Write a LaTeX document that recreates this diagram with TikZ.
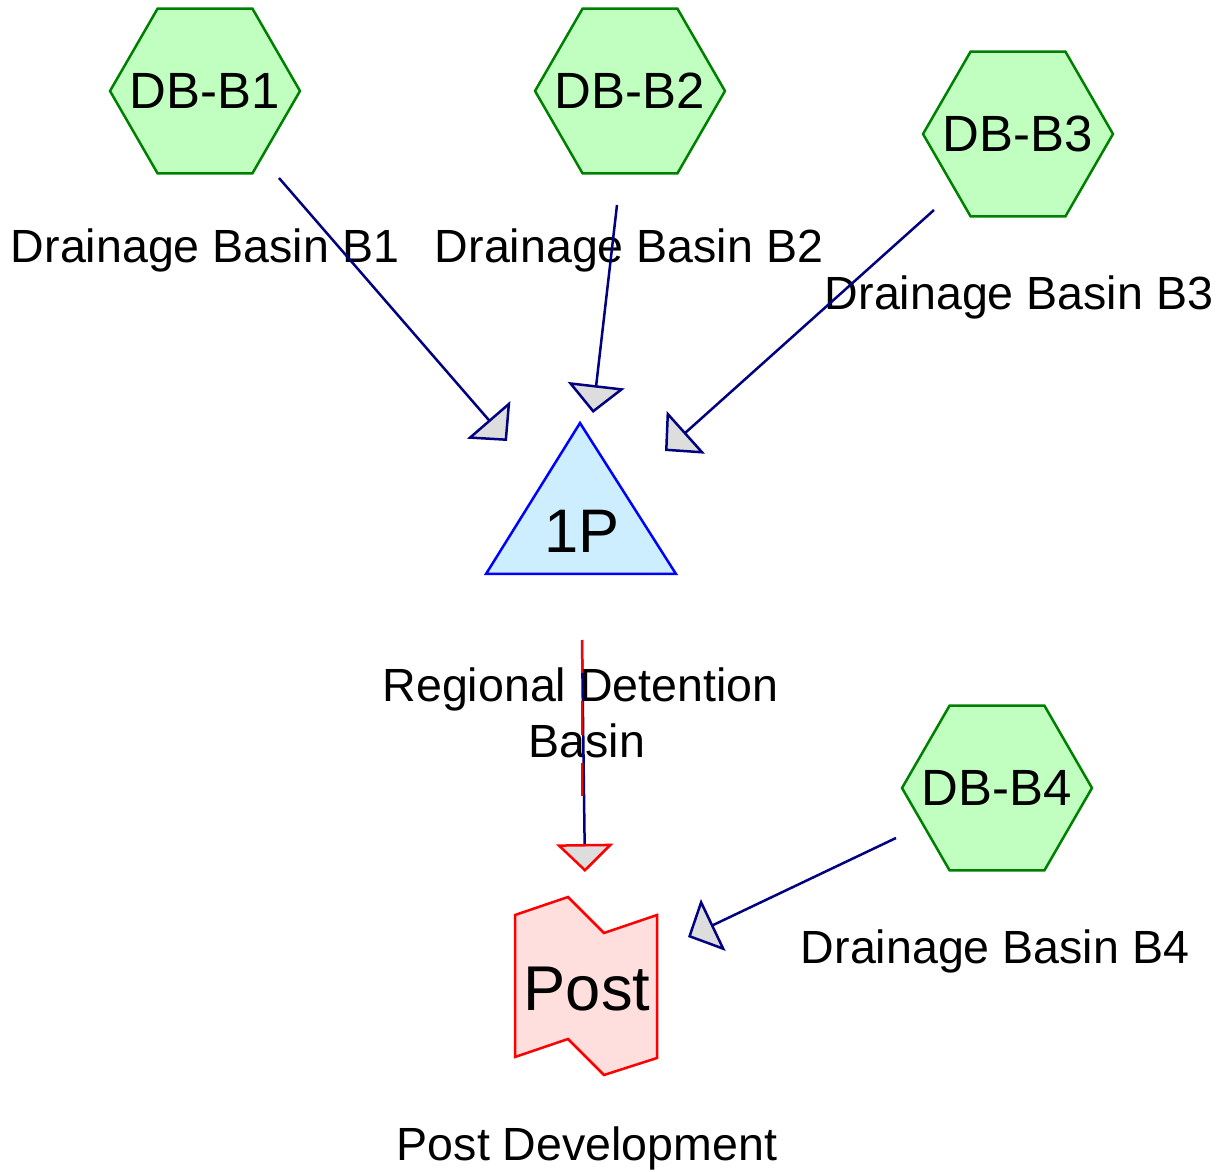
\documentclass[tikz,border=0pt]{standalone}
\usepackage{fontspec}
\setmainfont{Liberation Sans}
\usetikzlibrary{shapes.geometric,arrows.meta}

\definecolor{basinfill}{HTML}{C0FFC0}
\definecolor{basinedge}{HTML}{008000}
\definecolor{pondfill}{HTML}{CCEEFF}
\definecolor{pondedge}{HTML}{0000FF}
\definecolor{outfill}{HTML}{FFDEDE}
\definecolor{outedge}{HTML}{FF0000}
\definecolor{flowblue}{HTML}{000080}
\definecolor{tipgray}{HTML}{DDDDDD}

\tikzset{
  basin/.style={regular polygon, regular polygon sides=6, minimum size=3.8cm,
    inner sep=0pt, draw=basinedge, fill=basinfill, line width=0.05cm,
    label={[font=\fontsize{29}{35}\selectfont]center:#1}},
  basinlabel/.style={anchor=base, inner sep=0pt, font=\fontsize{26.5}{31.8}\selectfont},
  flow/.style={draw=flowblue, line width=0.05cm,
    -{Triangle[length=0.56cm,width=1.14cm,fill=tipgray]}},
}

\begin{document}
\begin{tikzpicture}[x=0.02cm,y=-0.02cm]
    \useasboundingbox (0,0) rectangle (1225,1172);
    %% drainage basins
    \node[basin=DB-B1] (b1) at (205,91) {};
    \node[basin=DB-B2] (b2) at (630,91) {};
    \node[basin=DB-B3] (b3) at (1018,134) {};
    \node[basin=DB-B4] (b4) at (997,788) {};
    %% pond
    \draw[draw=pondedge, fill=pondfill, line width=0.05cm]
        (580,423) -- (676,574) -- (486,574) -- cycle;
    \node[font=\fontsize{35}{42}\selectfont] (p1) at (582,531) {1P};
    %% outlet
    \draw[draw=outedge, fill=outfill, line width=0.05cm]
        (515,915) -- (568,897) -- (604,933) -- (657,915) -- (657,1058)
        -- (604,1075) -- (568,1039) -- (515,1057) -- cycle;
    \node[font=\fontsize{36}{43}\selectfont] (post) at (587,989) {Post};
    %% labels
    \node[basinlabel] (l1) at (205,263) {Drainage Basin B1};
    \node[basinlabel] (l2) at (629,263) {Drainage Basin B2};
    \node[basinlabel] (l3) at (1019,310) {Drainage Basin B3};
    \node[basinlabel] (l4) at (995,963) {Drainage Basin B4};
    \node[basinlabel, anchor=center, align=center] (lp) at (587,713)
        {Regional Detention\hphantom{\ }\\Basin};
    \node[basinlabel] (lpost) at (587,1160) {Post Development};
    %%% flows
    \draw[flow] ([shift={(74,87)}]b1.center) -- ([shift={(-75,-90)}]p1.center);
    \draw[flow] ([shift={(-13,114)}]b2.center) -- ([shift={(11,-118)}]p1.center);
    \draw[flow] ([shift={(-84,76)}]b3.center) -- ([shift={(83,-80)}]p1.center);
    \draw[flow] ([shift={(-101,50)}]b4.center) -- ([shift={(101,-52)}]post.center);
    \draw[flow, -{Triangle[length=0.56cm,width=1.14cm,fill=tipgray,color=outedge]}]
        ([shift={(0,109)}]p1.center) -- ([shift={(-2,-117)}]post.center);
    \draw[draw=outedge, line width=0.05cm, dash pattern=on 19pt off 16pt]
        ([shift={(0,109)}]p1.center) -- ([shift={(0,267)}]p1.center);
\end{tikzpicture}
\end{document}
